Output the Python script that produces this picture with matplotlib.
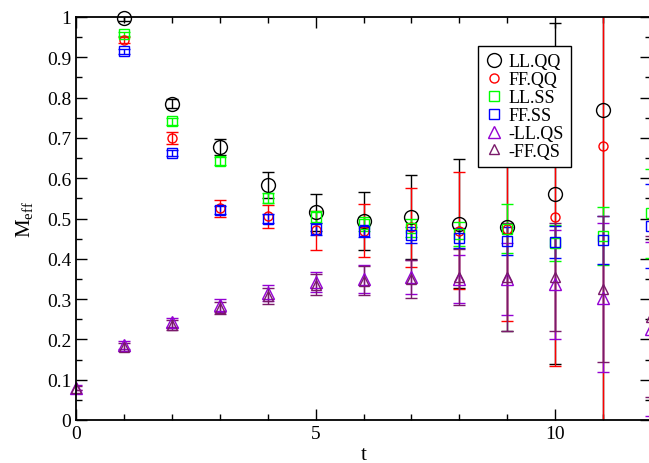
import matplotlib.pyplot as plt
import numpy as np

plt.rcParams['font.family'] = ['Liberation Serif', 'DejaVu Serif']
plt.rcParams['mathtext.fontset'] = 'custom'
plt.rcParams['mathtext.rm'] = 'Liberation Serif'

# LL.QQ
t_llqq = [1, 2, 3, 4, 5, 6, 7, 8, 9, 10, 11]
m_llqq = [0.997, 0.785, 0.678, 0.583, 0.516, 0.494, 0.504, 0.487, 0.478, 0.562, 0.768]
e_llqq = [0.006, 0.012, 0.02, 0.032, 0.046, 0.071, 0.105, 0.16, 0.256, 0.423, 1.2]

# FF.QQ
t_ffqq = [1, 2, 3, 4, 5, 6, 7, 8, 9, 10, 11]
m_ffqq = [0.943, 0.700, 0.525, 0.505, 0.471, 0.470, 0.478, 0.470, 0.475, 0.503, 0.680]
e_ffqq = [0.008, 0.015, 0.022, 0.028, 0.048, 0.066, 0.098, 0.145, 0.23, 0.368, 0.9]

# LL.SS
t_llss = [1, 2, 3, 4, 5, 6, 7, 8, 9, 10, 11, 12]
m_llss = [0.958, 0.741, 0.643, 0.551, 0.504, 0.486, 0.476, 0.462, 0.475, 0.440, 0.456, 0.513]
e_llss = [0.006, 0.008, 0.01, 0.012, 0.015, 0.018, 0.022, 0.03, 0.06, 0.045, 0.072, 0.11]

# FF.SS
t_ffss = [1, 2, 3, 4, 5, 6, 7, 8, 9, 10, 11, 12]
m_ffss = [0.915, 0.662, 0.522, 0.500, 0.474, 0.469, 0.460, 0.452, 0.445, 0.442, 0.447, 0.481]
e_ffss = [0.006, 0.008, 0.01, 0.012, 0.014, 0.016, 0.02, 0.025, 0.035, 0.04, 0.06, 0.105]

# -LL.QS
t_llqs = [0, 1, 2, 3, 4, 5, 6, 7, 8, 9, 10, 11, 12]
m_llqs = [0.080, 0.185, 0.242, 0.285, 0.316, 0.342, 0.350, 0.355, 0.350, 0.350, 0.337, 0.303, 0.226]
e_llqs = [0.006, 0.01, 0.012, 0.016, 0.02, 0.025, 0.035, 0.042, 0.06, 0.09, 0.135, 0.185, 0.215]

# -FF.QS
t_ffqs = [0, 1, 2, 3, 4, 5, 6, 7, 8, 9, 10, 11, 12]
m_ffqs = [0.080, 0.180, 0.236, 0.277, 0.307, 0.336, 0.346, 0.350, 0.355, 0.355, 0.355, 0.325, 0.256]
e_ffqs = [0.005, 0.01, 0.012, 0.015, 0.02, 0.027, 0.036, 0.048, 0.07, 0.133, 0.135, 0.182, 0.2]

series = [
    (t_llqq, m_llqq, e_llqq, "LL.QQ", "black", "o", 10),
    (t_ffqq, m_ffqq, e_ffqq, "FF.QQ", "red", "o", 6.5),
    (t_llss, m_llss, e_llss, "LL.SS", "#00ff00", "s", 7),
    (t_ffss, m_ffss, e_ffss, "FF.SS", "blue", "s", 7),
    (t_llqs, m_llqs, e_llqs, "-LL.QS", "#9400d3", "^", 9),
    (t_ffqs, m_ffqs, e_ffqs, "-FF.QS", "#7a1a6a", "^", 7),
]

fig = plt.figure(figsize=(6.49, 4.64), dpi=100)
ax = fig.add_axes([76 / 649, 1 - 421 / 464, 575 / 649, 403 / 464])

handles = []
for t, m, e, lab, col, mk, ms in series:
    cont = ax.errorbar(t, m, yerr=e, fmt=mk, ms=ms, mfc="none", mec=col, mew=1.0,
                       ecolor=col, elinewidth=1.0, capsize=4.3, capthick=1.0, label=lab)
    cont[0].set_clip_on(False)
    handles.append(cont[0])

ax.set_xlim(0, 12)
ax.set_ylim(0, 1)
ax.set_xticks([0, 5, 10])
ax.set_xticks(np.arange(0, 13, 1), minor=True)
ax.set_yticks(np.arange(0, 1.01, 0.1))
ax.set_yticklabels(["0", "0.1", "0.2", "0.3", "0.4", "0.5", "0.6", "0.7", "0.8", "0.9", "1"])
ax.set_yticks(np.arange(0, 1.01, 0.05), minor=True)
ax.tick_params(which="both", direction="in", top=True, right=True, labelsize=14, width=1)
ax.tick_params(which="major", length=8)
ax.tick_params(which="minor", length=4)
for sp in ax.spines.values():
    sp.set_linewidth(1.3)

ax.set_xlabel("t", fontsize=15, labelpad=2)
ax.set_ylabel(r"M$_{\rm eff}$", fontsize=15, labelpad=8)

leg = ax.legend(handles=handles, labels=[s[3] for s in series], loc="upper left",
                bbox_to_anchor=((478 - 76) / 575, (421 - 47) / 403), borderaxespad=0,
                fancybox=False, edgecolor="black", framealpha=1, fontsize=13,
                handlelength=1.0, handletextpad=0.3, labelspacing=0.05,
                borderpad=0.4, numpoints=1)
leg.get_frame().set_linewidth(1.0)

plt.savefig("out.png", dpi=100)
